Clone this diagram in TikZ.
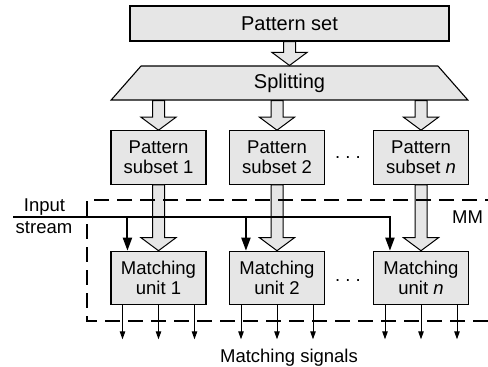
\documentclass[tikz,border=0pt]{standalone}
\usepackage{fontspec}
\setmainfont{Liberation Sans}
\usetikzlibrary{arrows.meta,shapes.geometric,calc}
\definecolor{boxgray}{RGB}{230,230,230}
\newcommand\fatarrow[2]{%
  \path[fatarr] let \p1=(#1), \p2=(#2) in
    (\x1-6pt,\y1) -- (\x1-6pt,\y2+13pt) -- (\x1-17.5pt,\y2+13pt) -- (\x1,\y2)
    -- (\x1+17.5pt,\y2+13pt) -- (\x1+6pt,\y2+13pt) -- (\x1+6pt,\y1) -- cycle;}
\begin{document}
\begin{tikzpicture}[x=1pt,y=-1pt,
  every node/.style={font=\fontsize{18.5}{20}\selectfont},
  bigtxt/.style={font=\fontsize{20}{22}\selectfont},
  blk/.style={draw,line width=1.1pt,fill=boxgray,minimum width=95pt,minimum height=53.5pt,align=center,inner sep=0pt},
  fatarr/.style={draw,line width=1pt,fill=boxgray,line join=miter},
  thk/.style={line width=2pt,line join=miter,-{Triangle[length=13pt,width=9pt]}},
  sig/.style={line width=1pt,-{Triangle[length=8pt,width=5.5pt]}},
  mmbox/.style={line width=2pt,dash pattern=on 15pt off 8pt}]
\useasboundingbox (0,0) rectangle (488,367);

\node[bigtxt,draw,line width=1.1pt,fill=boxgray,minimum width=319pt,minimum height=35pt,inner sep=0pt] (ps) at (289.5,23.5) {Pattern set};
\node[bigtxt,trapezium,draw,line width=1.1pt,fill=boxgray,trapezium stretches=true,
      minimum width=357pt,minimum height=34pt,trapezium left angle=69,trapezium right angle=69,inner sep=0pt] (split) at (289.5,83) {Splitting};

\node[blk] (s1) at (158.5,157.5) {Pattern\\subset 1};
\node[blk] (s2) at (277,157.5) {Pattern\\subset 2};
\node[blk] (sn) at (421,157.5) {Pattern\\subset \textit{n}};

\node[blk] (m1) at (158.5,278) {Matching\\unit 1};
\node[blk] (m2) at (277,278) {Matching\\unit 2};
\node[blk] (mn) at (421,278) {Matching\\unit \textit{n}};

\node[anchor=base] (d1) at (348,158.5) {.\ .\ .};
\node[anchor=base] (d2) at (348,281.5) {.\ .\ .};

\fatarrow{ps.south}{split.north}
\fatarrow{s1.north |- split.south}{s1.north}
\fatarrow{s2.north |- split.south}{s2.north}
\fatarrow{sn.north |- split.south}{sn.north}
\fatarrow{s1.south}{m1.north}
\fatarrow{s2.south}{m2.north}
\fatarrow{sn.south}{mn.north}

% MM dashed region
\coordinate (mmtr) at (500,200);
\coordinate (mmtl) at (87,200);
\coordinate (mmbl) at (87,321);
\coordinate (mmbr) at (500,321);
\draw[mmbox] (mmtr) -- (mmtl) -- (mmbl) -- (mmbr);
\node[anchor=base west,inner sep=0pt] (mm) at (452,223.3) {MM};

% input stream
\coordinate (in) at (13,217);
\coordinate (j1) at ($(m1.north west)+(17,0)$);
\coordinate (j2) at ($(m2.north west)+(17,0)$);
\coordinate (jn) at ($(mn.north west)+(17,0)$);
\draw[thk] (in) -- (jn |- in) -- (jn);
\draw[thk] (j1 |- in) -- (j1);
\draw[thk] (j2 |- in) -- (j2);
\node[anchor=base] (inl1) at (44.5,211.5) {Input};
\node[anchor=base] (inl2) at (44,233.5) {stream};

% matching signals
\foreach \m in {m1,m2,mn}{
  \foreach \dx in {-36,0,36}{
    \draw[sig] ($(\m.south)+(\dx,0)$) -- ++(0,34);
  }
}
\node[anchor=base] (sigs) at (289,362.5) {Matching signals};
\end{tikzpicture}
\end{document}
